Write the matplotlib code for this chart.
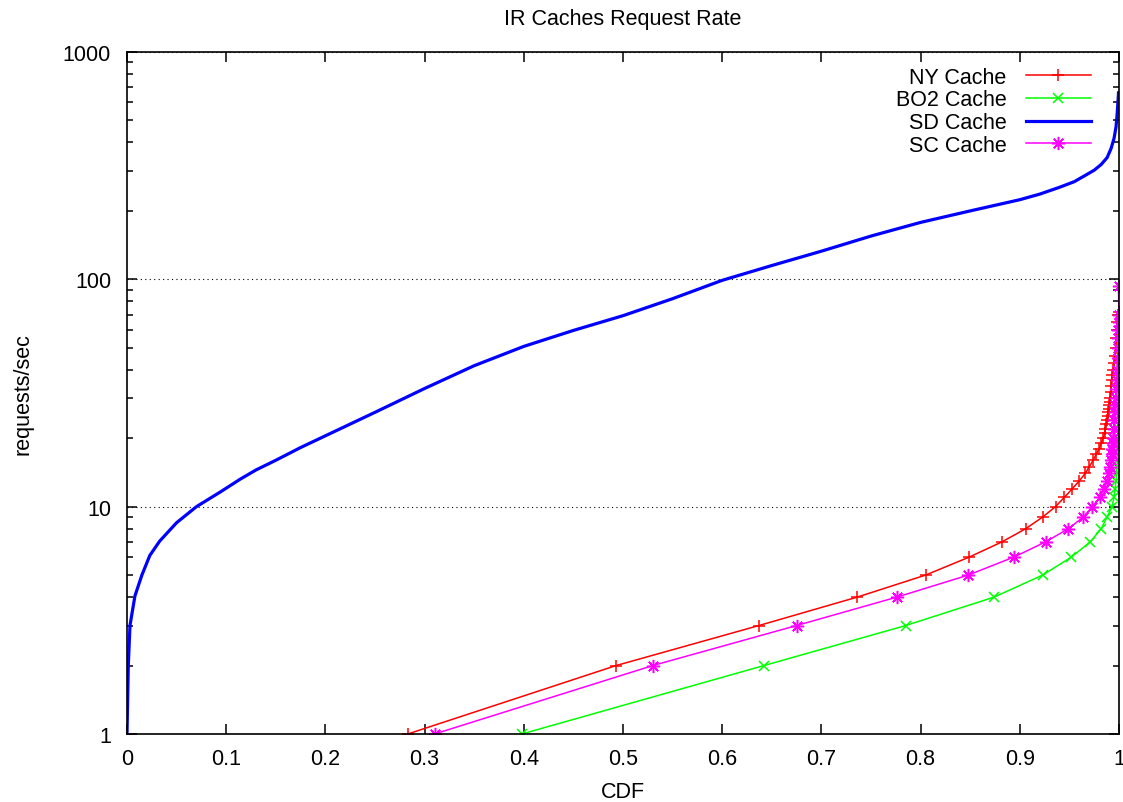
import numpy as np
import matplotlib
matplotlib.use("Agg")
import matplotlib.pyplot as plt
from matplotlib.ticker import FixedLocator, NullFormatter

plt.rcParams['font.family'] = ['Liberation Sans', 'DejaVu Sans']

# NY cache: request rate (req/s) vs CDF
ny_rate = [1, 2, 3, 4, 5, 6, 7, 8, 9, 10, 11, 12, 13, 14, 15, 16, 17, 18, 19, 20,
           21, 22, 23, 24, 25, 26, 27, 28, 29, 30, 32, 34, 36, 38, 40, 43, 46, 50,
           55, 60, 65, 70, 72]
ny_cdf = [0.283, 0.493, 0.637, 0.736, 0.805, 0.849, 0.882, 0.906, 0.923, 0.936,
          0.945, 0.953, 0.960, 0.966, 0.970, 0.974, 0.977, 0.980, 0.982, 0.984,
          0.9855, 0.986, 0.987, 0.988, 0.9885, 0.989, 0.9895, 0.990, 0.9905, 0.991,
          0.9915, 0.992, 0.9925, 0.993, 0.994, 0.995, 0.996, 0.9965, 0.997, 0.9975,
          0.998, 0.999, 0.9995]

# BO2 cache
bo2_rate = [1, 2, 3, 4, 5, 6, 7, 8, 9, 10, 11, 12, 13, 14, 15, 16, 18, 20, 22, 25]
bo2_cdf = [0.398, 0.642, 0.785, 0.874, 0.923, 0.952, 0.971, 0.982, 0.988, 0.993,
           0.995, 0.996, 0.997, 0.9975, 0.998, 0.9985, 0.999, 0.9993, 0.9996, 0.9998]

# SD cache (no markers)
sd_cdf = [0.0, 0.0013, 0.003, 0.008, 0.015, 0.023, 0.033, 0.050, 0.070, 0.094,
          0.114, 0.13, 0.15, 0.175, 0.2, 0.25, 0.3, 0.35, 0.4, 0.45, 0.5, 0.55,
          0.6, 0.65, 0.7, 0.75, 0.8, 0.85, 0.9, 0.92, 0.94, 0.955, 0.965, 0.975,
          0.982, 0.988, 0.992, 0.995, 0.997, 0.998, 0.9988, 0.9995]
sd_rate = [1.0, 2.0, 3.0, 4.05, 5.0, 6.1, 7.06, 8.5, 10.0, 11.6, 13.2, 14.5, 16.0,
           18.2, 20.5, 26.0, 33.1, 41.7, 50.7, 59.6, 69.2, 82.2, 99.0, 115.0,
           133.0, 155.0, 178.0, 200.0, 224.0, 237.0, 254.0, 269.0, 285.0, 302.0,
           320.0, 343.0, 376.0, 417.0, 468.0, 525.0, 589.0, 661.0]

# SC cache
sc_rate = [1, 2, 3, 4, 5, 6, 7, 8, 9, 10, 11, 12, 13, 14, 15, 16, 17, 18, 19, 20,
           22, 24, 26, 28, 30, 33, 36, 40, 45, 50, 55, 60, 65, 70, 93]
sc_cdf = [0.310, 0.530, 0.675, 0.776, 0.848, 0.894, 0.926, 0.949, 0.964, 0.973,
          0.981, 0.985, 0.988, 0.990, 0.991, 0.992, 0.9925, 0.993, 0.9935, 0.994,
          0.9945, 0.995, 0.9955, 0.996, 0.9965, 0.997, 0.9975, 0.998, 0.9985, 0.999,
          0.9992, 0.9994, 0.9996, 0.9998, 0.9995]

fig = plt.figure(figsize=(11.23, 8.03), dpi=100)
ax = fig.add_axes([127 / 1123, 68 / 803, 992 / 1123, 682 / 803])

fs = 15.5
ax.plot(ny_cdf, ny_rate, color='#ff0000', lw=1.1, marker='+', ms=9, mew=1.1,
        label='NY Cache')
ax.plot(bo2_cdf, bo2_rate, color='#00ff00', lw=1.1, marker='x', ms=7.5, mew=1.1,
        label='BO2 Cache')
ax.plot(sd_cdf, sd_rate, color='#0000ff', lw=2.3, label='SD Cache')
ax.plot(sc_cdf, sc_rate, color='#ff00ff', lw=1.1, marker=(8, 2, 0), ms=9.5, mew=1.1,
        label='SC Cache')

ax.set_yscale('log')
ax.set_xlim(0, 1)
ax.set_ylim(1, 1000)

ax.set_xticks(np.arange(0, 1.01, 0.1))
ax.set_xticklabels(['0', '0.1', '0.2', '0.3', '0.4', '0.5', '0.6', '0.7', '0.8',
                    '0.9', '1'])
ax.yaxis.set_major_locator(FixedLocator([1, 10, 100, 1000]))
ax.set_yticklabels(['1', '10', '100', '1000'])
minors = [m * 10 ** d for d in range(3) for m in range(2, 10)]
ax.yaxis.set_minor_locator(FixedLocator(minors))
ax.yaxis.set_minor_formatter(NullFormatter())

ax.tick_params(which='both', direction='in', top=True, right=True,
               labelsize=fs, width=1.1)
ax.tick_params(which='major', length=7)
ax.tick_params(axis='x', which='major', pad=10)
ax.tick_params(axis='y', which='major', pad=11.5)
ax.tick_params(which='minor', length=4)
ax.tick_params(axis='x', which='minor', bottom=False, top=False)
for s in ax.spines.values():
    s.set_linewidth(1.2)

ax.grid(axis='y', which='major', color='black', linestyle=(0, (1, 3)), lw=0.8)

ax.set_title('IR Caches Request Rate', fontsize=fs, pad=20)
ax.set_xlabel('CDF', fontsize=fs, labelpad=8.5)
ax.set_ylabel('requests/sec', fontsize=fs, labelpad=21)

ax.legend(loc='upper right', frameon=False, markerfirst=False, fontsize=fs,
          handlelength=3.0, handletextpad=0.9, labelspacing=0.08,
          borderaxespad=0.6, bbox_to_anchor=(0.993, 1.01))

fig.savefig('out.png', dpi=100)
